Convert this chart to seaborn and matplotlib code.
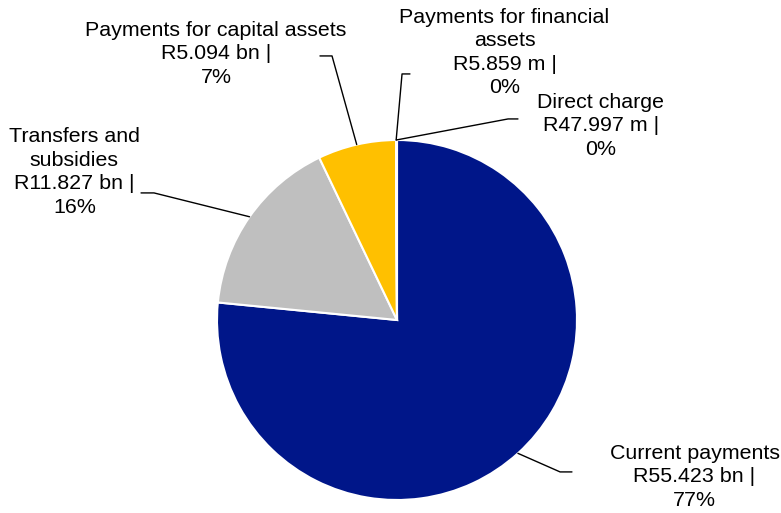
import numpy as np
import seaborn as sns
import matplotlib.pyplot as plt

categories = ["Current payments", "Transfers and\nsubsidies", "Payments for capital assets",
              "Payments for financial\nassets", "Direct charge"]
amounts_bn = [55.423, 11.827, 5.094, 0.005859, 0.047997]
amount_labels = ["R55.423 bn |", "R11.827 bn |", "R5.094 bn |", "R5.859 m |", "R47.997 m |"]
pct_labels = ["77%", "16%", "7%", "0%", "0%"]
colors = ["#001689", "#BFBFBF", "#FFC000", "#FFC000", "#001689"]

sns.set_theme(style="white")
plt.rcParams["font.family"] = ["Liberation Sans", "DejaVu Sans"]

fig = plt.figure(figsize=(7.81, 5.13), dpi=100)
ax = fig.add_axes([0, 0, 1, 1])

wedges, _ = ax.pie(amounts_bn, colors=colors, startangle=90, counterclock=False,
                   radius=1, center=(0, 0),
                   wedgeprops=dict(edgecolor="white", linewidth=1.5))

# label layout (data units, pie radius = 1)
elbows = [(0.906, -0.844), (-1.35, 0.706), (-0.361, 1.467), (0.028, 1.367), (0.617, 1.117)]
ends = [(0.972, -0.844), (-1.422, 0.706), (-0.428, 1.467), (0.072, 1.367), (0.672, 1.117)]
text_pos = [(1.653, -0.872), (-1.792, 0.822), (-1.006, 1.478), (0.597, 1.486), (1.133, 1.078)]

for i, w in enumerate(wedges):
    if i >= 3:
        ang = np.deg2rad(w.theta2)
    else:
        ang = np.deg2rad((w.theta1 + w.theta2) / 2)
    x0, y0 = np.cos(ang), np.sin(ang)
    ex, ey = elbows[i]
    fx, fy = ends[i]
    ax.plot([x0, ex, fx], [y0, ey, fy], color="black", lw=1)
    txt = categories[i] + "\n" + amount_labels[i] + "\n" + pct_labels[i]
    ax.text(text_pos[i][0], text_pos[i][1], txt, ha="center", va="center",
            fontsize=15.4, linespacing=1.3, color="black")

ax.set_xlim(-397 / 180, (781 - 397) / 180)
ax.set_ylim((320 - 513) / 180, 320 / 180)
ax.set_aspect("equal")
ax.axis("off")

fig.savefig("out.png", dpi=100)
